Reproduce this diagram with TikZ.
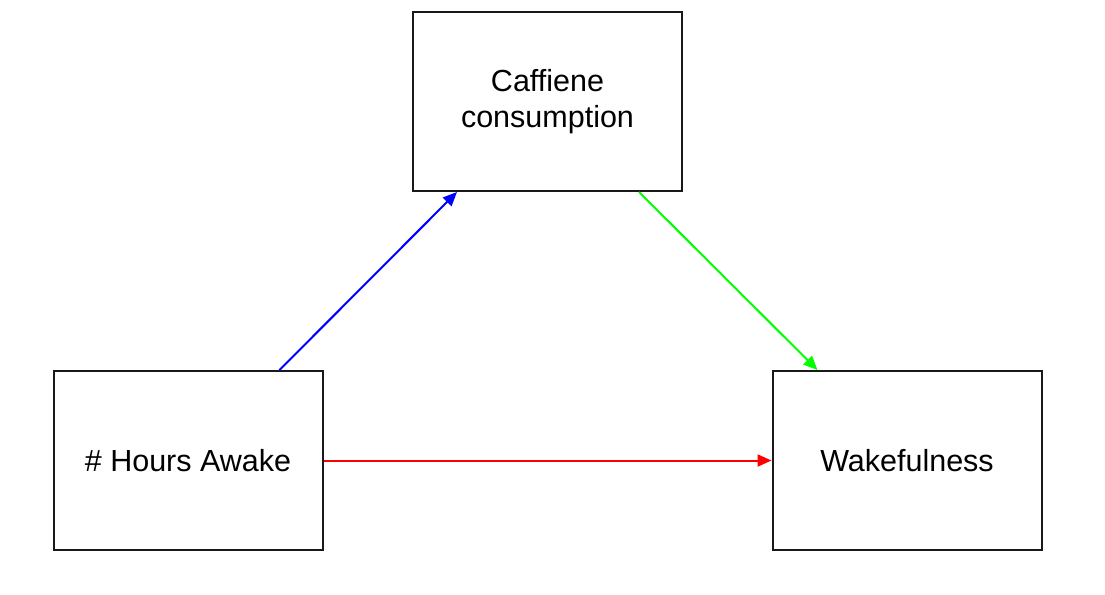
\documentclass[tikz,border=0pt]{standalone}
\usepackage{fontspec}
\setmainfont{Liberation Sans}
\usetikzlibrary{arrows.meta}
\begin{document}
\begin{tikzpicture}[x=1pt,y=-1pt,
  box/.style={draw=black!90,line width=2pt,minimum width=269pt,minimum height=179pt,inner sep=0pt,align=center,font=\fontsize{30.5}{36}\selectfont},
  conn/.style={line width=2pt,-{Triangle[length=14pt,width=12pt]}}]
\useasboundingbox (0,0) rectangle (1105,594);
\node[box] (caf) at (547.5,101.5) {Caffiene\\consumption};
\node[box] (hrs) at (188,460.5) {\# Hours Awake};
\node[box] (wak) at (907,460.5) {Wakefulness};
\draw[conn,blue] ([xshift=-44pt]hrs.north east) -- ([xshift=45pt]caf.south west);
\draw[conn,green] ([xshift=-44pt]caf.south east) -- ([xshift=46pt]wak.north west);
\draw[conn,red] (hrs.east) -- (wak.west);
\end{tikzpicture}
\end{document}
